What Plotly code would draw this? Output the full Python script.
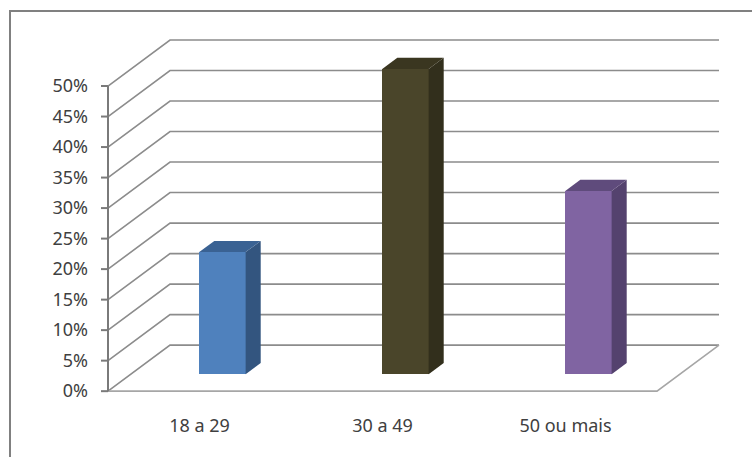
import plotly.graph_objects as go

# Data
categories = ["18 a 29", "30 a 49", "50 ou mais"]
values = [20, 50, 30]
y_ticks = [0, 5, 10, 15, 20, 25, 30, 35, 40, 45, 50]
y_tick_labels = [f"{t}%" for t in y_ticks]

# Styles
front_colors = ["#4F81BD", "#4A452A", "#8064A2"]
side_colors = ["#33557F", "#322F1C", "#54426E"]
top_colors = ["#3A6293", "#3A3620", "#5F4B7C"]
GRID = "#8C8C8C"
AXIS = "#7A7A7A"
FRAME = "#808080"
TEXT = "#404040"
FONT = "Noto Sans"
FONT_SIZE = 18

# Figure geometry (pixels)
W, H = 752, 457
L, R, T, B = 101, 722, 38, 391   # plot area starts at the tick marks' left end
AXIS_PX = 108
PX_PER_CAT = 183.0
PX_PER_PCT = 6.1
WALL_DX, WALL_DY = 62.0, 46.0   # depth of the chart floor

x_left = -0.5
x_range = [x_left - (AXIS_PX - L) / PX_PER_CAT, x_left + (R - AXIS_PX) / PX_PER_CAT]
y_range = [-0.3, (B - T) / PX_PER_PCT]
depth_x = WALL_DX / PX_PER_CAT     # full floor depth in axis units
depth_y = WALL_DY / PX_PER_PCT
bar_w = 46.4 / PX_PER_CAT
bar_start = 0.37                   # depth fraction of the bar front
bar_depth = 0.243                  # depth fraction taken by the bar
x_pos = list(range(len(categories)))
x_last = len(categories) - 0.5

shapes = []
# gridlines and floor
for t in y_ticks:
    back_y = t + depth_y
    path = (f"M {x_left} {t} L {x_left + depth_x} {back_y} "
            f"L {x_last + depth_x} {back_y}")
    shapes.append(dict(type="path", path=path, xref="x", yref="y", layer="below",
                       line=dict(color=GRID, width=1.6)))
    # tick mark left of the vertical axis
    shapes.append(dict(type="line", x0=x_range[0], x1=x_left, y0=t, y1=t,
                       xref="x", yref="y", layer="above",
                       line=dict(color=AXIS, width=2)))
shapes.append(dict(type="path",
                   path=f"M {x_left} 0 L {x_last} 0 L {x_last + depth_x} {depth_y}",
                   xref="x", yref="y", layer="below",
                   line=dict(color="#A6A6A6", width=1.6)))
# vertical axis line
shapes.append(dict(type="line", x0=x_left, x1=x_left, y0=y_ticks[0], y1=y_ticks[-1],
                   xref="x", yref="y", layer="above",
                   line=dict(color=AXIS, width=2)))
# outer frame, open on the right and bottom edges
bottom_px = 393
PH = bottom_px - T
shapes.append(dict(type="path",
                   path=(f"M {(10 - L) / (R - L)} {(bottom_px - H) / PH} "
                         f"L {(10 - L) / (R - L)} {(bottom_px - 11) / PH} "
                         f"L {(W - L) / (R - L)} {(bottom_px - 11) / PH}"),
                   xref="paper", yref="paper", layer="below",
                   line=dict(color=FRAME, width=2)))

fig = go.Figure()

base_y = bar_start * depth_y
base_x = bar_start * depth_x
fig.add_trace(go.Bar(
    x=[p + base_x for p in x_pos],
    y=values,
    base=[base_y] * len(values),
    width=bar_w,
    offset=-bar_w / 2,
    marker=dict(color=front_colors, line=dict(width=0)),
    hoverinfo="skip",
    showlegend=False,
))

dx = bar_depth * depth_x
dy = bar_depth * depth_y
for p, v, sc, tc in zip(x_pos, values, side_colors, top_colors):
    x0 = p + base_x - bar_w / 2
    x1 = x0 + bar_w
    y0 = base_y
    y1 = base_y + v
    fig.add_trace(go.Scatter(
        x=[x1, x1 + dx, x1 + dx, x1, x1],
        y=[y0, y0 + dy, y1 + dy, y1, y0],
        mode="lines", fill="toself", fillcolor=sc, line=dict(width=0),
        hoverinfo="skip", showlegend=False))
    fig.add_trace(go.Scatter(
        x=[x0, x0 + dx, x1 + dx, x1, x0],
        y=[y1, y1 + dy, y1 + dy, y1, y1],
        mode="lines", fill="toself", fillcolor=tc, line=dict(width=0),
        hoverinfo="skip", showlegend=False))

fig.update_layout(
    width=W, height=H,
    margin=dict(l=L, r=W - R, t=T, b=H - bottom_px, pad=0),
    paper_bgcolor="white", plot_bgcolor="white",
    font=dict(family=FONT, size=FONT_SIZE, color=TEXT),
    shapes=shapes,
    bargap=0,
    xaxis=dict(
        range=x_range, tickmode="array", tickvals=x_pos, ticktext=categories,
        showgrid=False, zeroline=False, showline=False, ticks="",
        ticklabelstandoff=20, tickfont=dict(family=FONT, size=FONT_SIZE, color=TEXT),
    ),
    yaxis=dict(
        range=y_range, tickmode="array", tickvals=y_ticks, ticktext=y_tick_labels,
        showgrid=False, zeroline=False, showline=False, ticks="",
        ticklabelstandoff=12, tickfont=dict(family=FONT, size=FONT_SIZE, color=TEXT),
    ),
)

fig.write_html("out.html", config=dict(displayModeBar=False),
               post_script="document.body.style.margin='0';document.body.style.overflow='hidden';")
